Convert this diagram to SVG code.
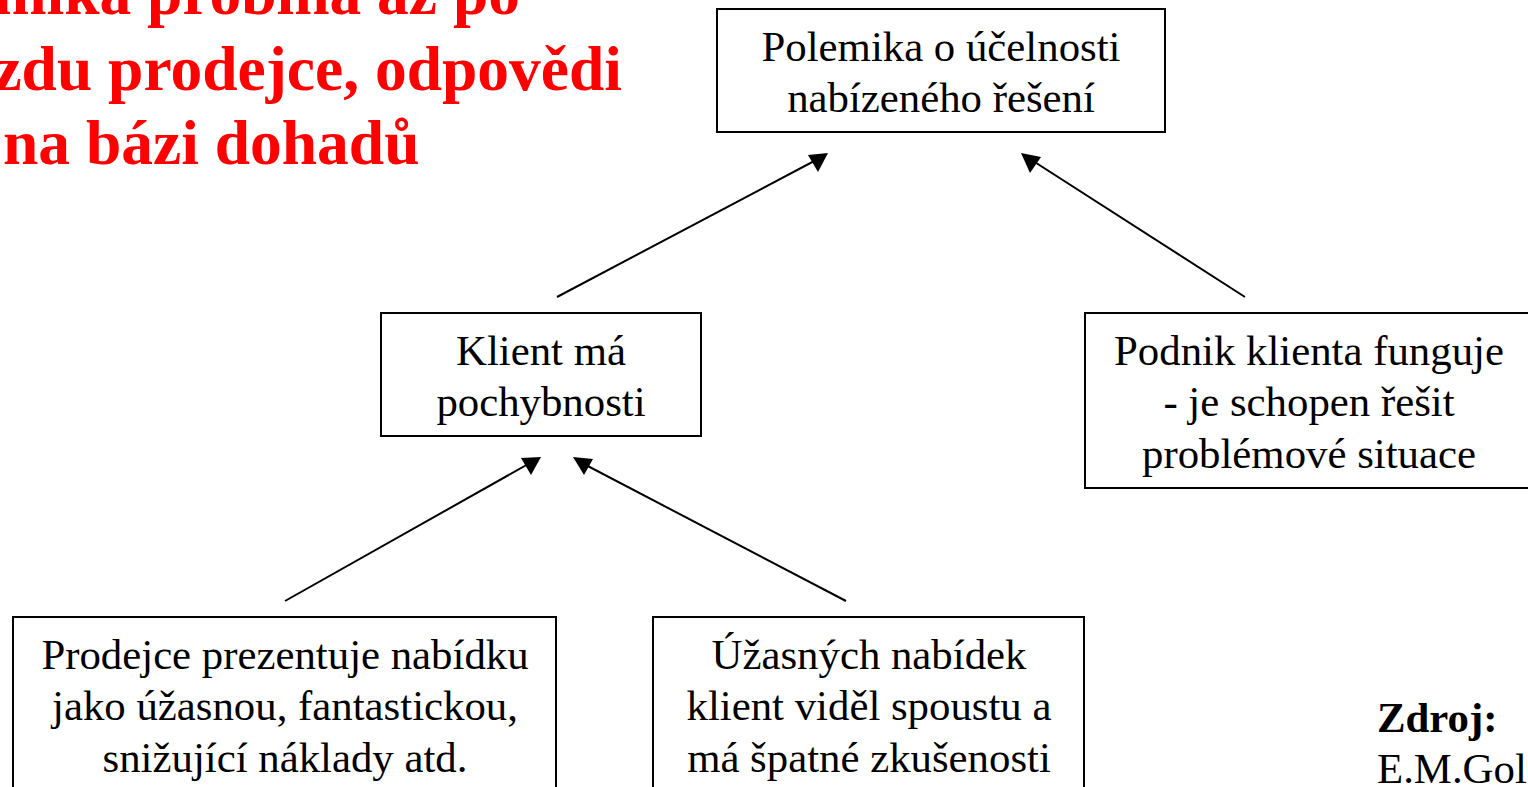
<svg xmlns="http://www.w3.org/2000/svg" width="1528" height="787" viewBox="0 0 1528 787">
<style>
.box{fill:#fff;stroke:#000;stroke-width:2}
.t{font-family:"Liberation Serif","Times New Roman",serif;font-size:42.8px;fill:#000;text-anchor:middle}
.title{font-family:"Liberation Serif","Times New Roman",serif;font-size:63.5px;font-weight:bold;fill:#FF0000}
.conn{stroke:#000;stroke-width:2;fill:none}
.head{fill:#000}
</style>
<rect width="1528" height="787" fill="#fff"/>
<g id="title">
<text class="title" x="520" y="14" text-anchor="end">Polemika probíhá až po</text>
<text class="title" x="622" y="90" text-anchor="end">odjezdu prodejce, odpovědi</text>
<text class="title" x="3" y="164">na bázi dohadů</text>
</g>
<g id="connectors">
<line class="conn" x1="557" y1="297" x2="818" y2="159"/>
<path class="head" d="M828,153 L808,155 L818,172 z"/>
<line class="conn" x1="1245" y1="297" x2="1030" y2="159"/>
<path class="head" d="M1021,153 L1041,157 L1030,173 z"/>
<line class="conn" x1="285" y1="601" x2="530" y2="463"/>
<path class="head" d="M541,457 L521,458 L531,475 z"/>
<line class="conn" x1="846" y1="601" x2="582" y2="463"/>
<path class="head" d="M573,457 L593,459 L584,475 z"/>
</g>
<g id="node-polemika">
<rect class="box" x="717" y="9" width="448" height="123"/>
<text class="t" x="941" y="61">Polemika o účelnosti</text>
<text class="t" x="941" y="112">nabízeného řešení</text>
</g>
<g id="node-klient">
<rect class="box" x="381" y="313" width="320" height="123"/>
<text class="t" x="541" y="365">Klient má</text>
<text class="t" x="541" y="416">pochybnosti</text>
</g>
<g id="node-podnik">
<rect class="box" x="1085" y="313" width="450" height="175"/>
<text class="t" x="1309" y="365">Podnik klienta funguje</text>
<text class="t" x="1309" y="416">- je schopen řešit</text>
<text class="t" x="1309" y="468">problémové situace</text>
</g>
<g id="node-prodejce">
<rect class="box" x="13" y="617" width="543" height="190"/>
<text class="t" x="285" y="669">Prodejce prezentuje nabídku</text>
<text class="t" x="285" y="720">jako úžasnou, fantastickou,</text>
<text class="t" x="285" y="772">snižující náklady atd.</text>
</g>
<g id="node-uzasnych">
<rect class="box" x="653" y="617" width="431" height="190"/>
<text class="t" x="869" y="669">Úžasných nabídek</text>
<text class="t" x="869" y="720">klient viděl spoustu a</text>
<text class="t" x="869" y="772">má špatné zkušenosti</text>
</g>
<g id="source">
<text x="1377" y="732" style="font-family:'Liberation Serif','Times New Roman',serif;font-size:42.8px;font-weight:bold;fill:#000">Zdroj:</text>
<text x="1377" y="783" style="font-family:'Liberation Serif','Times New Roman',serif;font-size:42.8px;fill:#000">E.M.Gold</text>
</g>
</svg>
